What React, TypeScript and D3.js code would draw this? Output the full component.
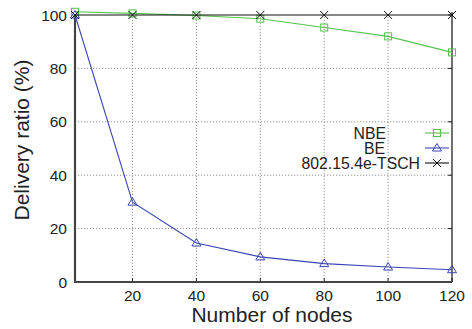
import React, { useRef, useEffect } from "react";
import * as d3 from "d3";

// data
const nodes = [2, 20, 40, 60, 80, 100, 120];
const nbe = [101.2, 100.6, 99.8, 98.6, 95.3, 92.0, 86.0];
const be = [100, 29.9, 14.6, 9.4, 6.9, 5.6, 4.6];
const tsch = [100, 100, 100, 100, 100, 100, 100];
const xTicks = [20, 40, 60, 80, 100, 120];
const yTicks = [0, 20, 40, 60, 80, 100];
const seriesNames = ["NBE", "BE", "802.15.4e-TSCH"];

const font = "'Liberation Sans', Arial, Helvetica, sans-serif";
const colors = ["#55c24f", "#3a46b4", "#111"];

export default function App() {
  const ref = useRef<SVGSVGElement>(null);
  const width = 472;
  const height = 329;

  useEffect(() => {
    const margin = { top: 15, right: 20, bottom: 47, left: 75 };
    const svg = d3.select(ref.current);
    svg.selectAll("*").remove();
    svg.attr("width", width).attr("height", height).style("font-family", font);

    const x = d3.scaleLinear().domain([2, 120]).range([margin.left, width - margin.right]);
    const y = d3.scaleLinear().domain([0, 100]).range([height - margin.bottom, margin.top]);

    // 网格
    const grid = svg.append("g").attr("stroke", "#777").attr("stroke-width", 0.8).attr("stroke-dasharray", "1.2,1.8");
    grid.selectAll("line.gx").data(xTicks.filter(d => d < 120)).join("line")
      .attr("x1", d => x(d)).attr("x2", d => x(d))
      .attr("y1", y(0)).attr("y2", y(100));
    grid.selectAll("line.gy").data(yTicks.filter(d => d > 0 && d < 100)).join("line")
      .attr("x1", x(2)).attr("x2", x(120))
      .attr("y1", d => y(d)).attr("y2", d => y(d));

    // 刻度
    const ticks = svg.append("g").attr("stroke", "#222").attr("stroke-width", 1);
    ticks.selectAll("line.ty").data(yTicks).join("line")
      .attr("x1", x(120) - 4).attr("x2", x(120))
      .attr("y1", d => y(d)).attr("y2", d => y(d));
    ticks.selectAll("line.tx").data(xTicks).join("line")
      .attr("x1", d => x(d)).attr("x2", d => x(d))
      .attr("y1", y(0)).attr("y2", y(0) - 4);

    // 坐标轴
    svg.append("line").attr("x1", x(120)).attr("x2", x(120)).attr("y1", y(0)).attr("y2", y(100) - 3)
      .attr("stroke", "#111").attr("stroke-width", 1.2);
    svg.append("line").attr("x1", x(2)).attr("x2", x(2)).attr("y1", y(0) + 1).attr("y2", y(100))
      .attr("stroke", "#444").attr("stroke-width", 2.2);
    svg.append("line").attr("x1", x(2) - 1).attr("x2", x(120)).attr("y1", y(0)).attr("y2", y(0))
      .attr("stroke", "#444").attr("stroke-width", 2.2);

    // 刻度标签
    svg.append("g").selectAll("text").data(yTicks).join("text")
      .attr("x", x(2) - 8).attr("y", d => y(d) + 5.5)
      .attr("text-anchor", "end").attr("font-size", 15.5).attr("fill", "#222")
      .text(d => d);
    svg.append("g").selectAll("text").data(xTicks).join("text")
      .attr("x", d => x(d)).attr("y", y(0) + 19)
      .attr("text-anchor", "middle").attr("font-size", 15.5).attr("fill", "#222")
      .text(d => d);

    // 轴标题
    svg.append("text").attr("x", 272).attr("y", 322)
      .attr("text-anchor", "middle").attr("font-size", 21).attr("fill", "#222")
      .text("Number of nodes");
    svg.append("text").attr("transform", `translate(29,140) rotate(-90)`)
      .attr("text-anchor", "middle").attr("font-size", 21).attr("fill", "#222")
      .text("Delivery ratio (%)");

    const series = [nbe, be, tsch];
    const line = d3.line<number>().x((_, i) => x(nodes[i])).y(d => y(d));

    const marker = (g: any, k: number, cx: number, cy: number) => {
      if (k === 0) {
        g.append("rect").attr("x", cx - 3.5).attr("y", cy - 3.5).attr("width", 7).attr("height", 7)
          .attr("fill", "none").attr("stroke", colors[0]).attr("stroke-width", 1);
      } else if (k === 1) {
        g.append("path").attr("d", `M${cx},${cy - 4.5}L${cx + 4.5},${cy + 3}L${cx - 4.5},${cy + 3}Z`)
          .attr("fill", "none").attr("stroke", colors[1]).attr("stroke-width", 1);
      } else {
        g.append("path").attr("d", `M${cx - 4},${cy - 4}L${cx + 4},${cy + 4}M${cx - 4},${cy + 4}L${cx + 4},${cy - 4}`)
          .attr("stroke", colors[2]).attr("stroke-width", 1);
      }
    };

    series.forEach((vals, k) => {
      const g = svg.append("g");
      g.append("path").attr("d", line(vals)).attr("fill", "none")
        .attr("stroke", colors[k]).attr("stroke-width", k === 2 ? 1.2 : 1.1);
      vals.forEach((v, i) => marker(g, k, x(nodes[i]), y(v)));
    });

    // 图例
    const legendEnd = [386, 385, 420];
    seriesNames.forEach((name, k) => {
      const cy = 133 + k * 15;
      svg.append("text").attr("x", legendEnd[k]).attr("y", cy + 5.5)
        .attr("text-anchor", "end").attr("font-size", 15.8).attr("fill", "#222").text(name);
      const g = svg.append("g");
      g.append("line").attr("x1", 425).attr("x2", 449).attr("y1", cy).attr("y2", cy)
        .attr("stroke", colors[k]).attr("stroke-width", 1.1);
      marker(g, k, 437, cy);
    });
  }, []);

  return <svg ref={ref} style={{ position: "absolute", left: 0, top: 0 }}></svg>;
}
